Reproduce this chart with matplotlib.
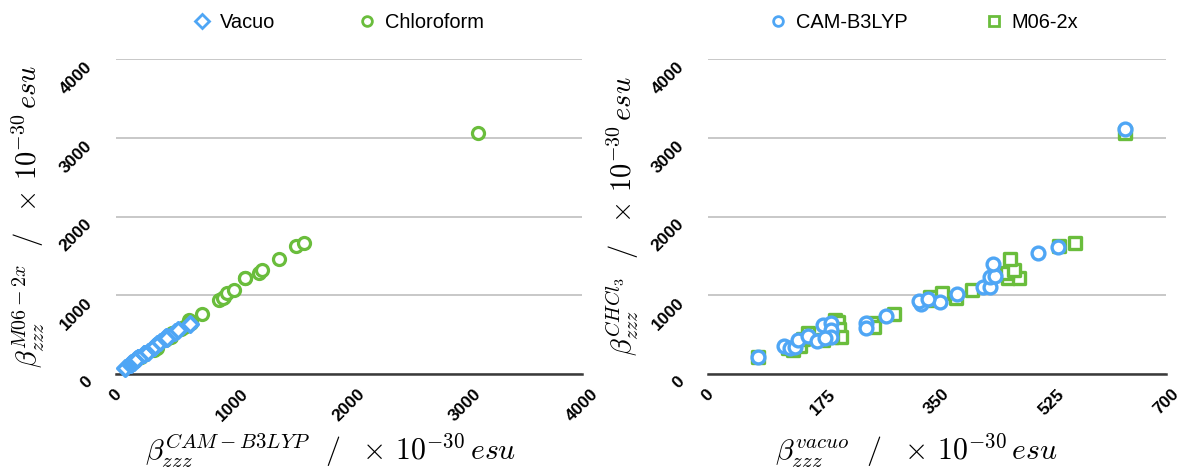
import numpy as np
import matplotlib
matplotlib.use("Agg")
import matplotlib.pyplot as plt
from matplotlib.lines import Line2D

# beta_zzz values (x 10^-30 esu) for each molecule
cam_vac = [76, 116, 125, 133, 138, 153, 166, 175, 188, 188, 188, 179, 241, 241,
           272, 326, 323, 355, 336, 380, 420, 431, 431, 439, 436, 505, 535, 638]
m06_vac = [77, 122, 130, 140, 145, 153, 175, 194, 198, 200, 204, 190, 250, 253,
           284, 346, 340, 379, 357, 403, 459, 475, 457, 468, 462, 536, 561, 638]
cam_chl = [212, 356, 326, 347, 432, 483, 419, 623, 644, 559, 474, 453, 644, 580,
           737, 886, 928, 919, 953, 1017, 1110, 1110, 1229, 1250, 1398, 1542, 1610, 3110]
m06_chl = [215, 330, 305, 360, 440, 517, 430, 686, 660, 570, 474, 465, 650, 593,
           762, 940, 975, 962, 1033, 1068, 1216, 1224, 1288, 1322, 1458, 1627, 1669, 3060]

left_xticks = [0, 1000, 2000, 3000, 4000]
right_xticks = [0, 175, 350, 525, 700]
yticks = [0, 1000, 2000, 3000, 4000]

blue = "#4fa6f5"
green = "#6abd3c"

plt.rcParams["font.family"] = "Liberation Sans"
plt.rcParams["mathtext.fontset"] = "cm"

W, H = 1182, 470
fig = plt.figure(figsize=(W / 100, H / 100), dpi=100)


def px_axes(x0, x1, y0, y1):
    return fig.add_axes([x0 / W, 1 - y1 / H, (x1 - x0) / W, (y1 - y0) / H])


def style(ax, xticks, xmax):
    ax.set_xlim(0, xmax)
    ax.set_ylim(0, 4000)
    ax.set_xticks(xticks)
    ax.set_yticks(yticks)
    for s in ["top", "right", "left"]:
        ax.spines[s].set_visible(False)
    ax.spines["bottom"].set_color("#3a3a3a")
    ax.spines["bottom"].set_linewidth(1.8)
    ax.yaxis.grid(True, color="#c4c4c4", linewidth=1.3)
    ax.set_axisbelow(True)
    ax.tick_params(length=0)
    ax.tick_params(axis="x", pad=9)
    ax.tick_params(axis="y", pad=15)
    for lab in ax.get_xticklabels():
        lab.set_rotation(45)
        lab.set_ha("center")
        lab.set_va("top")
        lab.set_fontweight("bold")
        lab.set_fontsize(12.5)
    for lab in ax.get_yticklabels():
        lab.set_rotation(45)
        lab.set_ha("right")
        lab.set_va("top")
        lab.set_fontweight("bold")
        lab.set_fontsize(12.5)


# left panel: CAM-B3LYP vs M06-2x
ax1 = px_axes(116, 582, 59.3, 374)
ax1.scatter(cam_chl, m06_chl, marker="o", s=75, facecolors="white",
            edgecolors=green, linewidths=2.3, zorder=3, clip_on=False)
ax1.scatter(cam_vac, m06_vac, marker="D", s=62, facecolors="white",
            edgecolors=blue, linewidths=2.6, zorder=4, clip_on=False)
style(ax1, left_xticks, 4000)
ax1.set_xlabel(r"$\beta_{zzz}^{CAM-B3LYP}\ \ /\ \ \times\,10^{-30}\,esu$", fontsize=21.5, va="top")
ax1.set_ylabel(r"$\beta_{zzz}^{M06-2x}\ \ /\ \ \times\,10^{-30}\,esu$", fontsize=20.5)
ax1.xaxis.set_label_coords(0.46, -0.183)
ax1.yaxis.set_label_coords(-0.148, 0.5)

h1 = [Line2D([], [], ls="", marker="D", ms=7, mfc="white", mec=blue, mew=2),
      Line2D([], [], ls="", marker="o", ms=7, mfc="white", mec=green, mew=2)]
fig.legend(h1, ["Vacuo", "Chloroform"], loc="center", ncol=2, frameon=False,
           bbox_to_anchor=(338 / W, 1 - 22 / H), fontsize=14.4, handlelength=1.0,
           handletextpad=0.4, columnspacing=4.1)

# right panel: vacuo vs chloroform
ax2 = px_axes(708, 1166, 59.3, 374)
ax2.scatter(m06_vac, m06_chl, marker="s", s=85, facecolors="white",
            edgecolors=green, linewidths=2.4, zorder=3, clip_on=False)
ax2.scatter(cam_vac, cam_chl, marker="o", s=85, facecolors="white",
            edgecolors=blue, linewidths=2.4, zorder=4, clip_on=False)
style(ax2, right_xticks, 700)
ax2.set_xlabel(r"$\beta_{zzz}^{vacuo}\ \ /\ \ \times\,10^{-30}\,esu$", fontsize=21.5, va="top")
ax2.set_ylabel(r"$\beta_{zzz}^{CHCl_3}\ \ /\ \ \times\,10^{-30}\,esu$", fontsize=20.5)
ax2.xaxis.set_label_coords(0.456, -0.183)
ax2.yaxis.set_label_coords(-0.146, 0.5)

h2 = [Line2D([], [], ls="", marker="o", ms=7, mfc="white", mec=blue, mew=2),
      Line2D([], [], ls="", marker="s", ms=7, mfc="white", mec=green, mew=2)]
fig.legend(h2, ["CAM-B3LYP", "M06-2x"], loc="center", ncol=2, frameon=False,
           bbox_to_anchor=(923 / W, 1 - 22 / H), fontsize=14.4, handlelength=1.0,
           handletextpad=0.4, columnspacing=3.8)

fig.savefig("out.png", dpi=100)
